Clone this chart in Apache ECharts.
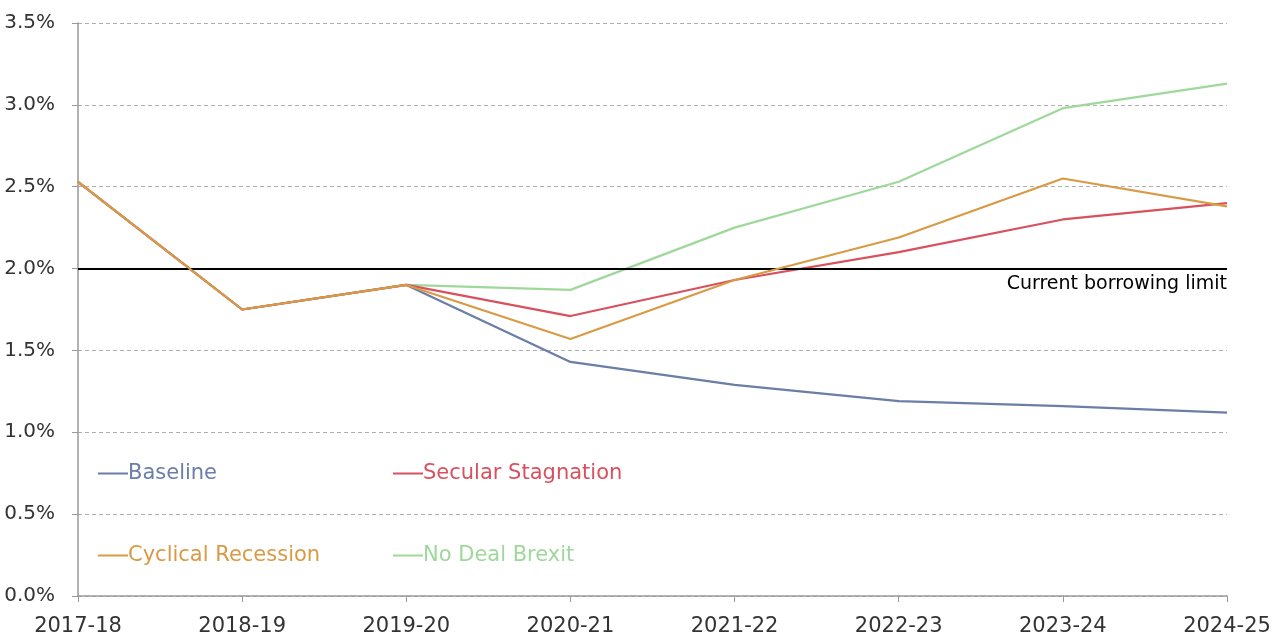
<!DOCTYPE html>
<html><head><meta charset="utf-8">
<script src="https://cdn.jsdelivr.net/npm/echarts@6/dist/echarts.min.js"></script>
<style>html,body{margin:0;padding:0;background:#fff}#c{width:1280px;height:639px}</style>
</head><body><div id="c"></div>
<script>
const categories = ['2017-18','2018-19','2019-20','2020-21','2021-22','2022-23','2023-24','2024-25'];
const baseline = [2.53, 1.75, 1.90, 1.43, 1.29, 1.19, 1.16, 1.12];
const secular = [2.53, 1.75, 1.90, 1.71, 1.93, 2.10, 2.30, 2.40];
const cyclical = [2.53, 1.75, 1.90, 1.57, 1.93, 2.19, 2.55, 2.38];
const noDeal = [2.53, 1.75, 1.90, 1.87, 2.25, 2.53, 2.98, 3.13];
const borrowingLimit = 2.0;
const yTicks = { min: 0, max: 3.5, interval: 0.5 };

const FONT = 'DejaVu Sans';
const names = ['Baseline','Secular Stagnation','Cyclical Recession','No Deal Brexit'];
const colors = ['#6a7ea6','#d9505f','#d99a45','#9fd89b'];
const dataSets = [baseline, secular, cyclical, noDeal];
const legendPos = [[98,463],[393,463],[98,545],[393,545]];

const chart = echarts.init(document.getElementById('c'), null, {renderer:'canvas'});
const series = names.map((n,i)=>({
  name:n, type:'line', data:dataSets[i], symbol:'none', smooth:false,
  lineStyle:{color:colors[i], width:2.2}, itemStyle:{color:colors[i]},
  z: 3 + (i===3?0:i),
  animation:false
}));
series[0].markLine = {
  silent:true, symbol:['none','none'], animation:false,
  lineStyle:{color:'#000', width:2, type:'solid'},
  label:{show:true, position:'insideEndBottom', formatter:'Current borrowing limit', color:'#000', fontFamily:FONT, fontSize:19, distance:[0,6]},
  data:[{yAxis:borrowingLimit}]
};
chart.setOption({
  animation:false,
  grid:{left:78, right:53, top:23, bottom:43, containLabel:false},
  legend: names.map((n,i)=>({
    data:[{name:n, textStyle:{color:colors[i]}}],
    left:legendPos[i][0], top:legendPos[i][1], padding:0,
    icon:'rect', itemWidth:30, itemHeight:2, itemGap:0,
    textStyle:{fontFamily:FONT, fontSize:21, padding:[0,0,0,-5]},
    selectedMode:false
  })),
  xAxis:{type:'category', data:categories, boundaryGap:false,
    axisLine:{lineStyle:{color:'#999', width:1.5}},
    axisTick:{show:true, alignWithLabel:true, length:6, lineStyle:{color:'#999'}},
    axisLabel:{color:'#333', fontFamily:FONT, fontSize:21, margin:20, showMinLabel:true, showMaxLabel:true, interval:0},
    splitLine:{show:false}},
  yAxis:{type:'value', min:yTicks.min, max:yTicks.max, interval:yTicks.interval,
    axisLine:{show:true, lineStyle:{color:'#999', width:1.5}},
    axisTick:{show:true, length:6, lineStyle:{color:'#999'}},
    axisLabel:{color:'#333', fontFamily:FONT, fontSize:20, margin:23, formatter:v=>v.toFixed(1)+'%'},
    splitLine:{show:true, lineStyle:{color:'#b0b0b0', type:[4,3], width:1}}},
  series: series
});
</script></body></html>
